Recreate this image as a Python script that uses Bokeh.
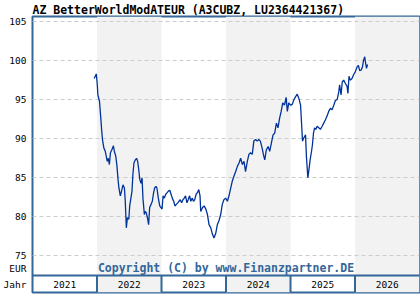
import pandas as pd
from bokeh.plotting import figure
from bokeh.models import FixedTicker, ColumnDataSource, Title
from bokeh.core.properties import value
from bokeh.embed import file_html
from bokeh.resources import INLINE

title_text = "AZ BetterWorldModATEUR (A3CUBZ, LU2364421367)"
copyright_text = "Copyright (C) by www.Finanzpartner.DE"
years = [2021, 2022, 2023, 2024, 2025, 2026]
shaded_years = [2022, 2024, 2026]
y_ticks = [75, 80, 85, 90, 95, 100, 105]

dates = [
    "2021-12-16", "2021-12-28", "2022-01-02", "2022-01-06", "2022-01-15", "2022-01-21",
    "2022-01-27", "2022-02-01", "2022-02-09", "2022-02-17", "2022-02-22", "2022-02-28",
    "2022-03-06", "2022-03-12", "2022-03-18", "2022-03-26", "2022-04-04", "2022-04-09",
    "2022-04-17", "2022-04-24", "2022-04-30", "2022-05-05", "2022-05-13", "2022-05-20",
    "2022-05-28", "2022-06-05", "2022-06-10", "2022-06-16", "2022-06-22", "2022-06-30",
    "2022-07-05", "2022-07-12", "2022-07-18", "2022-07-23", "2022-07-29", "2022-08-06",
    "2022-08-13", "2022-08-19", "2022-08-25", "2022-08-31", "2022-09-07", "2022-09-13",
    "2022-09-18", "2022-09-26", "2022-10-01", "2022-10-07", "2022-10-15", "2022-10-20",
    "2022-10-26", "2022-11-03", "2022-11-10", "2022-11-16", "2022-11-23", "2022-12-01",
    "2022-12-06", "2022-12-14", "2022-12-22", "2022-12-29", "2023-01-04", "2023-01-10",
    "2023-01-17", "2023-01-25", "2023-02-02", "2023-02-09", "2023-02-17", "2023-02-24",
    "2023-03-03", "2023-03-11", "2023-03-18", "2023-03-26", "2023-04-03", "2023-04-10",
    "2023-04-17", "2023-04-25", "2023-05-02", "2023-05-10", "2023-05-17", "2023-05-25",
    "2023-06-01", "2023-06-09", "2023-06-16", "2023-06-24", "2023-07-01", "2023-07-08",
    "2023-07-16", "2023-07-23", "2023-07-31", "2023-08-07", "2023-08-11", "2023-08-21",
    "2023-08-30", "2023-09-09", "2023-09-18", "2023-09-27", "2023-10-07", "2023-10-16",
    "2023-10-25", "2023-11-04", "2023-11-13", "2023-11-22", "2023-12-02", "2023-12-11",
    "2023-12-20", "2023-12-30", "2024-01-09", "2024-01-18", "2024-01-28", "2024-02-06",
    "2024-02-15", "2024-02-25", "2024-03-06", "2024-03-15", "2024-03-24", "2024-04-03",
    "2024-04-12", "2024-04-21", "2024-05-01", "2024-05-10", "2024-05-19", "2024-05-29",
    "2024-06-07", "2024-06-17", "2024-06-26", "2024-07-05", "2024-07-14", "2024-07-24",
    "2024-08-02", "2024-08-08", "2024-08-17", "2024-08-27", "2024-09-05", "2024-09-15",
    "2024-09-24", "2024-10-03", "2024-10-13", "2024-10-22", "2024-10-31", "2024-11-09",
    "2024-11-18", "2024-11-28", "2024-12-07", "2024-12-14", "2024-12-22", "2025-01-01",
    "2025-01-11", "2025-01-20", "2025-01-30", "2025-02-08", "2025-02-17", "2025-02-27",
    "2025-03-04", "2025-03-10", "2025-03-17", "2025-03-27", "2025-04-01", "2025-04-09",
    "2025-04-14", "2025-04-22", "2025-04-30", "2025-05-05", "2025-05-11", "2025-05-17",
    "2025-05-24", "2025-06-01", "2025-06-10", "2025-06-19", "2025-06-29", "2025-07-08",
    "2025-07-17", "2025-07-27", "2025-08-05", "2025-08-15", "2025-08-24", "2025-09-03",
    "2025-09-12", "2025-09-22", "2025-10-01", "2025-10-06", "2025-10-14", "2025-10-21",
    "2025-10-29", "2025-11-07", "2025-11-17", "2025-11-22", "2025-11-28", "2025-12-05",
    "2025-12-15", "2025-12-24", "2026-01-03", "2026-01-13", "2026-01-20", "2026-01-28",
    "2026-02-05", "2026-02-12", "2026-02-19", "2026-02-25", "2026-03-02", "2026-03-07",
    "2026-03-13",
]

prices = [
    97.7, 98.3, 97.1, 95.6, 94.8, 93.1,
    91.2, 89.9, 88.8, 88.4, 87.8, 87.1,
    87.5, 86.7, 88.2, 88.6, 89.1, 88.4,
    87.8, 86.5, 84.8, 83.7, 82.7, 83.3,
    84.1, 83.7, 82.0, 78.6, 79.9, 79.7,
    81.4, 82.4, 83.3, 85.4, 86.9, 87.3,
    87.5, 87.1, 86.1, 84.8, 84.3, 85.0,
    82.4, 80.3, 80.7, 80.5, 79.7, 79.0,
    81.2, 81.6, 82.0, 82.9, 83.7, 83.9,
    83.7, 82.4, 81.4, 81.2, 81.0, 82.7,
    82.4, 82.9, 83.1, 83.3, 83.4, 82.9,
    82.4, 82.0, 81.4, 81.6, 81.8, 82.0,
    82.2, 81.8, 82.2, 82.4, 82.7, 81.8,
    82.2, 82.7, 82.0, 82.4, 82.0, 82.2,
    82.9, 83.1, 83.5, 82.7, 80.7, 81.2,
    81.4, 81.0, 80.3, 79.0, 78.6, 77.8,
    77.3, 77.9, 79.0, 79.5, 80.3, 81.6,
    82.2, 82.4, 82.0, 82.7, 83.7, 84.6,
    85.2, 85.8, 86.5, 86.9, 87.5, 86.7,
    87.1, 85.8, 87.1, 88.0, 88.2, 88.0,
    89.7, 89.9, 89.7, 89.9, 89.7, 88.8,
    87.8, 87.3, 88.6, 89.0, 88.4, 89.5,
    90.5, 90.7, 92.0, 91.4, 92.6, 93.5,
    94.6, 94.3, 95.3, 93.5, 94.6, 94.3,
    94.4, 95.0, 95.4, 95.7, 95.2, 94.3,
    92.2, 89.7, 90.1, 90.5, 87.8, 85.0,
    85.8, 87.3, 88.4, 89.2, 90.7, 91.4,
    91.2, 91.6, 91.4, 91.2, 91.6, 92.0,
    92.4, 92.9, 93.5, 93.9, 93.7, 94.3,
    94.9, 95.0, 96.0, 96.9, 95.6, 97.3,
    97.5, 97.1, 96.7, 95.8, 98.0, 97.5,
    97.7, 98.2, 98.6, 99.2, 99.4, 98.7,
    98.8, 99.2, 100.1, 100.5, 99.7, 99.0,
    99.5,
]

# convert dates to decimal years
d = pd.to_datetime(pd.Series(dates))
days_in_year = d.dt.is_leap_year.map({True: 366, False: 365})
t = d.dt.year + (d.dt.dayofyear - 1) / days_in_year
src = ColumnDataSource(dict(t=t.tolist(), price=prices))

# layout
Y_BOT, Y_TOP = 70.32, 105.65
BAND_TOP = 72.49
UNIT_Y = 73.4
BAND_MID = (Y_BOT + BAND_TOP) / 2
X_MIN, X_MAX = years[0], years[-1] + 1
FRAME = "#336699"
MONO = "DejaVu Sans Mono"

p = figure(width=420, height=300, output_backend="svg", toolbar_location=None,
           x_range=(X_MIN, X_MAX), y_range=(Y_BOT, Y_TOP),
           min_border_left=31, min_border_right=1, min_border_top=0, min_border_bottom=8)
p.background_fill_color = "white"
p.border_fill_color = "white"
p.outline_line_color = FRAME
p.outline_line_width = 2

p.add_layout(Title(text=title_text, text_font=MONO, text_font_size="11.5px",
                   text_font_style="bold", text_color="black", align="left",
                   standoff=0, offset=0, text_line_height=1.0), "above")

# shaded years
sh = p.quad(left=shaded_years, right=[y + 1 for y in shaded_years],
            bottom=Y_BOT, top=Y_TOP, fill_color="#f2f2f2", line_color=None)
sh.level = "image"

# axes
p.xaxis.visible = False
p.xgrid.visible = False
p.yaxis.ticker = FixedTicker(ticks=y_ticks + [UNIT_Y, BAND_MID])
p.yaxis.major_label_overrides = {UNIT_Y: "EUR", BAND_MID: "Jahr"}
p.yaxis.axis_line_color = None
p.yaxis.major_tick_line_color = None
p.yaxis.minor_tick_line_color = None
p.yaxis.major_tick_out = 0
p.yaxis.major_tick_in = 0
p.yaxis.minor_tick_out = 0
p.yaxis.major_label_standoff = 6
p.yaxis.major_label_text_font = MONO
p.yaxis.major_label_text_font_size = "9.5px"
p.yaxis.major_label_text_color = "black"
p.ygrid.ticker = FixedTicker(ticks=y_ticks)
p.ygrid.grid_line_color = "#cccccc"
p.ygrid.grid_line_dash = "4 3"
p.ygrid.grid_line_width = 1

# price line
p.line("t", "price", source=src, line_color="#003399", line_width=1.3)

# year band
p.segment(x0=X_MIN, x1=X_MAX, y0=BAND_TOP, y1=BAND_TOP, line_color=FRAME, line_width=2)
p.segment(x0=years[1:], x1=years[1:], y0=Y_BOT, y1=BAND_TOP, line_color=FRAME, line_width=2)
p.text(x=[y + 0.5 for y in years], y=BAND_MID, text=[str(y) for y in years],
       text_font=value(MONO), text_font_size="9.5px", text_color="black",
       text_align="center", text_baseline="middle")

# copyright
p.text(x=[(X_MIN + X_MAX) / 2], y=[UNIT_Y], text=[copyright_text],
       text_font=value(MONO), text_font_size="11.5px", text_font_style="bold",
       text_color=FRAME, text_align="center", text_baseline="middle")

open("out.html", "w").write(file_html(p, INLINE))
